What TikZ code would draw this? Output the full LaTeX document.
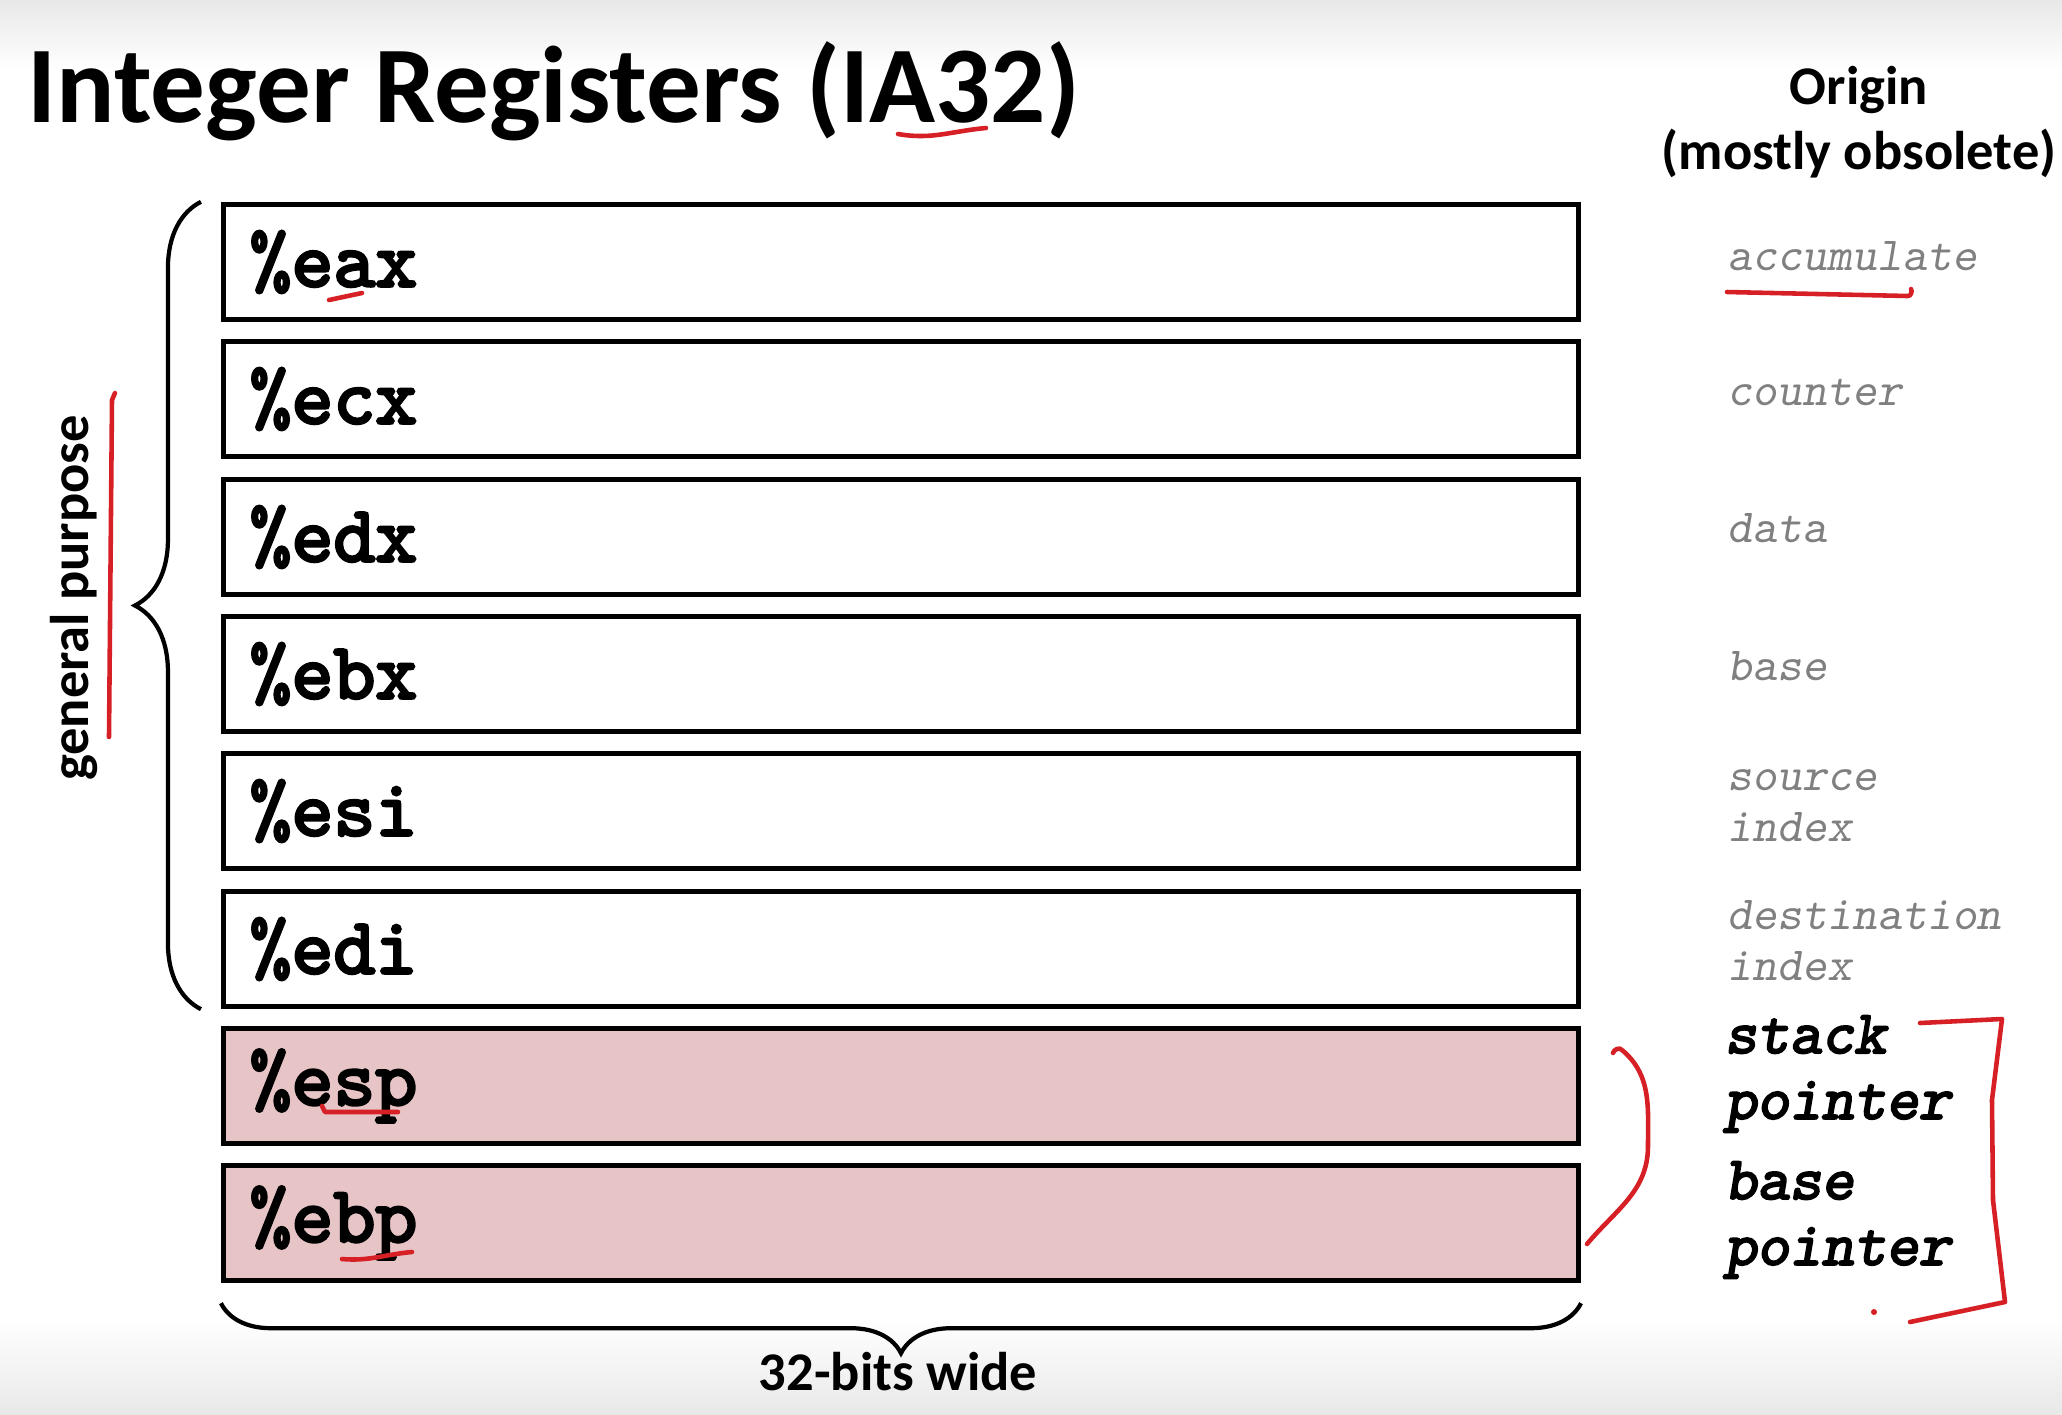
\documentclass[tikz,border=0pt]{standalone}
\usepackage{fontspec}
\setmainfont{Carlito}
\newfontfamily\regfont{lmmono10-regular.otf}[
	BoldFont=lmmono10-regular.otf, BoldFeatures={FakeBold=3.5},
	ItalicFont=lmmonoslant10-regular.otf,
	BoldItalicFont=lmmonoslant10-regular.otf, BoldItalicFeatures={FakeBold=3}]
\usetikzlibrary{decorations.pathreplacing}
\definecolor{regpink}{RGB}{231,197,199}
\definecolor{penred}{RGB}{214,32,38}

\begin{document}
\begin{tikzpicture}[x=0.01cm,y=-0.01cm,
	reg/.style={draw, line width=1.5pt, minimum width=13.54cm, minimum height=1.15cm,
		text width=13.02cm, align=left, inner xsep=0.26cm,
		font=\regfont\bfseries\fontsize{22.7}{26}\selectfont},
	regsp/.style={reg, fill=regpink},
	orig/.style={anchor=west, align=left, inner sep=0pt, text=black!50,
		font=\regfont\itshape\fontsize{13.5}{14.5}\selectfont},
	origsp/.style={orig, text=black, font=\regfont\bfseries\itshape\fontsize{17.5}{18.7}\selectfont},
	curly/.style={decorate, decoration={brace, amplitude=#1}, line width=1.2pt},
	pen/.style={penred, line width=1.3pt, line cap=round, line join=round}]
		\useasboundingbox (0,0) rectangle (2062,1414);
		\shade[top color=black!9, bottom color=white] (0,0) rectangle (2062,70);
		\shade[top color=white, bottom color=black!9] (0,1320) rectangle (2062,1414);
		%title
		\node[anchor=base west, inner sep=0pt, font=\bfseries\fontsize{31}{36}\selectfont] (title) at (27,122) {Integer Registers (IA32)};
		\node[anchor=north, align=center, inner sep=0pt, font=\bfseries\fontsize{15.5}{18.4}\selectfont] (origin) at (1859,66) {Origin\\(mostly obsolete)};
		%registers
		\node[reg] (eax) at (901,262) {\%eax};
		\node[reg] (ecx) at (901,399) {\%ecx};
		\node[reg] (edx) at (901,537) {\%edx};
		\node[reg] (ebx) at (901,674) {\%ebx};
		\node[reg] (esi) at (901,811) {\%esi};
		\node[reg] (edi) at (901,949) {\%edi};
		\node[regsp] (esp) at (901,1086) {\%esp};
		\node[regsp] (ebp) at (901,1223) {\%ebp};
		%origins
		\node[orig] (o-eax) at (1727,256) {accumulate};
		\node[orig] (o-ecx) at (1727,392) {counter};
		\node[orig] (o-edx) at (1727,528) {data};
		\node[orig] (o-ebx) at (1727,666) {base};
		\node[orig] (o-esi) at (1727,806) {source\\index};
		\node[orig] (o-edi) at (1727,941) {destination\\index};
		\node[origsp] (o-esp) at (1724,1074) {stack\\pointer};
		\node[origsp] (o-ebp) at (1724,1220) {base\\pointer};
		%braces
		\draw[curly=0.66cm] ([xshift=-0.2cm]edi.south west) -- ([xshift=-0.2cm]eax.north west);
		\draw[curly=0.5cm] ([yshift=-0.2cm]ebp.south east) -- ([yshift=-0.2cm]ebp.south west);
		\node[rotate=90, font=\bfseries\fontsize{15.5}{18}\selectfont] (gp) at (74,598) {general purpose};
		\node[font=\bfseries\fontsize{15.5}{18}\selectfont] (width) at (898,1372) {32-bits wide};
		%pen marks
		\draw[pen] (898,134) to[out=-10,in=185] (986,128);
		\draw[pen] (329,300) -- (362,293);
		\draw[pen] (109,737) -- (112,400) -- (115,393);
		\draw[pen] (1727,292) -- (1908,296) to[out=0,in=-60] (1911,289);
		\draw[pen] (322,1106) -- (325,1112) -- (398,1112);
		\draw[pen] (342,1259) to[out=-5,in=185] (412,1252);
		\draw[pen] (1613,1053) to[out=80,in=120] (1622,1050) to[out=-40,in=90] (1648,1146) to[out=-90,in=50] (1587,1244);
		\draw[pen] (1920,1023) -- (2002,1019) -- (1992,1100) -- (1993,1200) -- (2005,1302) -- (1910,1322);
		\fill[penred] (1874,1312) circle (3);
\end{tikzpicture}
\end{document}
